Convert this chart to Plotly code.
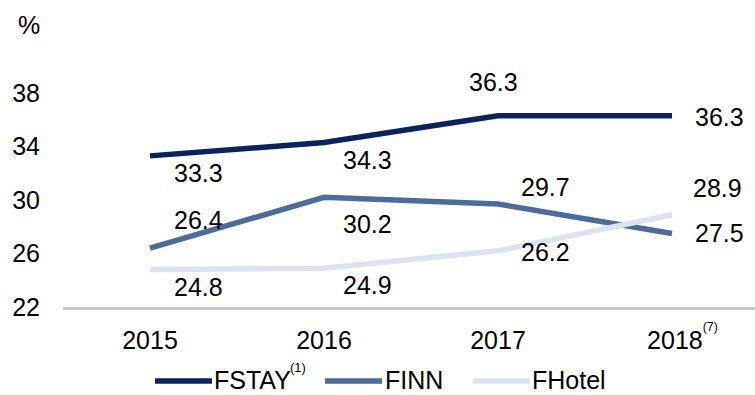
import plotly.graph_objects as go

# Data
years = ["2015", "2016", "2017", "2018"]
year_labels = ["2015", "2016", "2017",
               "&nbsp;&nbsp;&nbsp;2018<sup><sup>(7)</sup></sup>"]
fstay = [33.3, 34.3, 36.3, 36.3]
finn = [26.4, 30.2, 29.7, 27.5]
fhotel = [24.8, 24.9, 26.2, 28.9]
y_ticks = [22, 26, 30, 34, 38]

# Styling
FONT = "Liberation Sans, Arial, sans-serif"
FS = 25
W, H = 755, 395
L, R, T, B = 63, 0, 60, 88

series = [
    dict(name="FSTAY", note="(1)", values=fstay, color="#0A2260"),
    dict(name="FINN", note=None, values=finn, color="#4D6B9B"),
    dict(name="FHotel", note=None, values=fhotel, color="#DCE3EE"),
]

# Pixel offsets (dx, dy) of each value label relative to its point (dy up)
label_offsets = {
    "FSTAY": [(48, -17), (43, -17), (-5, 34), (47, -1)],
    "FINN": [(48, 28), (43, -27), (47, 17), (47, 0)],
    "FHotel": [(48, -17), (43, -17), (47, -1), (45, 27)],
}

fig = go.Figure()
annotations = []
shapes = []

for s in series:
    fig.add_trace(go.Scatter(
        x=years, y=s["values"], mode="lines", name=s["name"],
        line=dict(color=s["color"], width=5.5),
        showlegend=False, hoverinfo="skip",
    ))
    for i, (v, (dx, dy)) in enumerate(zip(s["values"], label_offsets[s["name"]])):
        # category axes place annotations by category index
        annotations.append(dict(
            x=i, y=v, xref="x", yref="y", text=f"{v:.1f}",
            showarrow=False, xshift=dx, yshift=dy,
            xanchor="center", yanchor="middle",
            font=dict(family=FONT, size=FS, color="#000000"),
        ))


def px_to_paper(px, py):
    return (px - L) / (W - L - R), (H - B - py) / (H - B - T)


# Legend along the bottom: (line start, line end, text start, note start)
legend_items = [(155, 212, 212, 288), (325, 382, 383, None), (473, 530, 530, None)]
legend_y = 381
for s, (x0, x1, xt, xn) in zip(series, legend_items):
    a0, yy = px_to_paper(x0, legend_y)
    a1, _ = px_to_paper(x1, legend_y)
    at, ty = px_to_paper(xt, legend_y - 1)
    shapes.append(dict(type="line", xref="paper", yref="paper",
                       x0=a0, x1=a1, y0=yy, y1=yy,
                       line=dict(color=s["color"], width=5.5)))
    annotations.append(dict(x=at, y=ty, xref="paper", yref="paper",
                            text=s["name"], showarrow=False,
                            xanchor="left", yanchor="middle",
                            font=dict(family=FONT, size=FS, color="#000000")))
    if s["note"]:
        an, ny = px_to_paper(xn, 367)
        annotations.append(dict(x=an, y=ny, xref="paper", yref="paper",
                                text=s["note"], showarrow=False,
                                xanchor="left", yanchor="middle",
                                font=dict(family=FONT, size=13, color="#000000")))

# Unit label
ux, uy = px_to_paper(29, 25)
annotations.append(dict(x=ux, y=uy, xref="paper", yref="paper", text="%",
                        showarrow=False, xanchor="center", yanchor="middle",
                        font=dict(family=FONT, size=FS, color="#000000")))

fig.update_layout(
    width=W, height=H,
    margin=dict(l=L, r=R, t=T, b=B, pad=0),
    paper_bgcolor="white", plot_bgcolor="white",
    font=dict(family=FONT, size=FS, color="#000000"),
    annotations=annotations, shapes=shapes,
    showlegend=False,
)
fig.update_xaxes(
    type="category", categoryorder="array", categoryarray=years,
    range=[-0.5, 3.477], tickvals=years, ticktext=year_labels,
    showline=True, linecolor="#C8C8C8", linewidth=3,
    showgrid=False, zeroline=False, ticks="", ticklabelstandoff=9,
    tickfont=dict(family=FONT, size=FS, color="#000000"),
)
fig.update_yaxes(
    range=[22, 40.47], tickvals=y_ticks, ticktext=[str(t) for t in y_ticks],
    showline=False, showgrid=False, zeroline=False, ticks="",
    ticklabelstandoff=22,
    tickfont=dict(family=FONT, size=FS, color="#000000"),
)

fig.write_html("out.html")
